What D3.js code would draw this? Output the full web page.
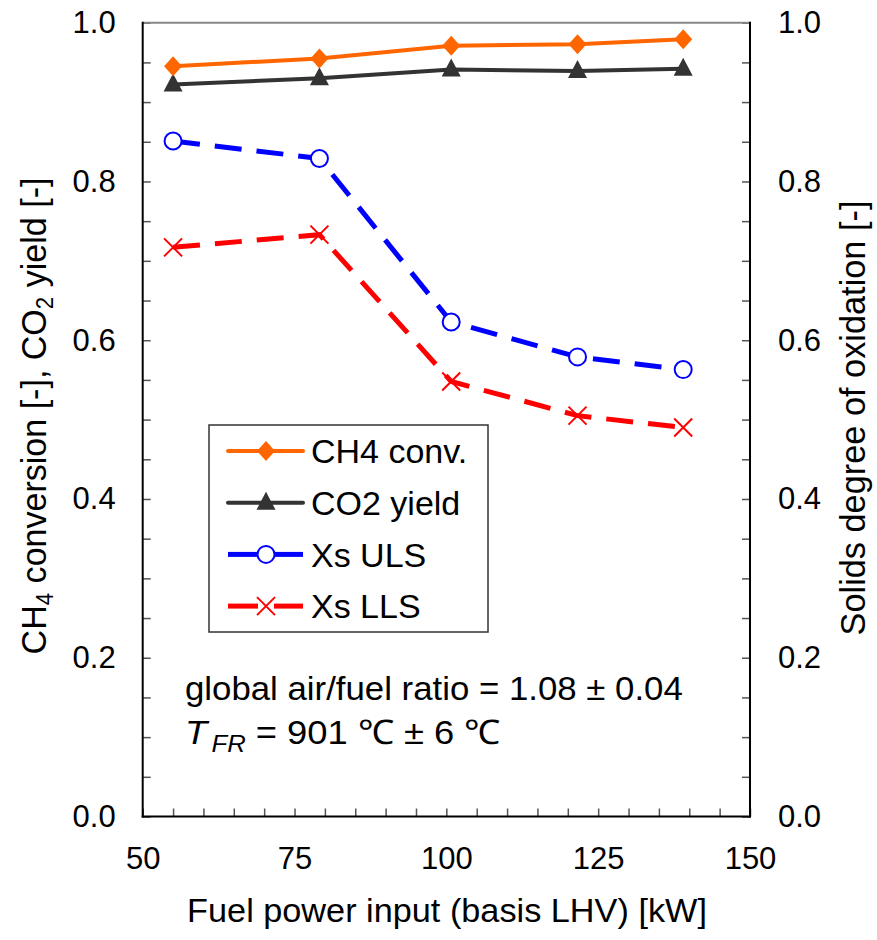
<!DOCTYPE html>
<html lang="en">
<head>
<meta charset="UTF-8">
<title>fuel power input</title>
<script src="https://cdn.jsdelivr.net/npm/d3@7"></script>
<style>
    body { margin: 0; background: #fff; }
    svg { display: block; }
    text { font-family: "Liberation Sans", Arial, Helvetica, sans-serif; fill: #000; }
    .axis path.domain { display: none; }
    .axis line { stroke: #555; stroke-width: 1.5px; }
    .axis text { font-size: 31px; }
    .xaxis text { font-size: 31px; }
</style>
</head>
<body>
<svg width="877" height="940"></svg>
<script>

    // data
    var power = [55, 79.1, 100.8, 121.6, 139];
    var ch4Conv = [0.945, 0.955, 0.971, 0.973, 0.979];
    var co2Yield = [0.922, 0.930, 0.941, 0.939, 0.942];
    var xsULS = [0.851, 0.829, 0.623, 0.579, 0.563];
    var xsLLS = [0.717, 0.733, 0.548, 0.505, 0.490];

    var xMajor = [50, 75, 100, 125, 150];
    var xMinor = d3.range(50, 150.001, 5);
    var yMajor = [0, 0.2, 0.4, 0.6, 0.8, 1.0];
    var yMinor = d3.range(0, 1.0001, 0.05);

    var series = [
        { name: 'CH4 conv.', values: ch4Conv, color: '#ff6600', marker: 'diamond', dash: null, width: 4 },
        { name: 'CO2 yield', values: co2Yield, color: '#333333', marker: 'triangle', dash: null, width: 4 },
        { name: 'Xs ULS', values: xsULS, color: '#0000ff', marker: 'circle', dash: '27,15', width: 5 },
        { name: 'Xs LLS', values: xsLLS, color: '#ff0000', marker: 'cross', dash: '27,15', width: 5 }
    ];

    var svg = d3.select('svg');

    var plotLeft = 142.7, plotRight = 750, plotTop = 22.7, plotBottom = 816.5;

    var x = d3.scaleLinear().domain([50, 150]).range([plotLeft, plotRight]);
    var y = d3.scaleLinear().domain([0, 1]).range([plotBottom, plotTop]);

    function isMajor(list, v) {
        return list.some(function (m) { return Math.abs(m - v) < 1e-6; });
    }

    // fit a text to a given length along its own direction
    function fit(text, length) {
        var w = text.node().getBBox().width;
        text.attr('transform', 'scale(' + (length / w) + ',1)');
    }

    // axes, ticks pointing inward
    svg.append('g')
        .attr('class', 'axis')
        .attr('transform', 'translate(' + plotLeft + ',0)')
        .call(d3.axisLeft(y).tickValues(yMinor).tickSize(-8).tickPadding(27)
            .tickFormat(function (d) { return isMajor(yMajor, d) ? d3.format('.1f')(d) : ''; }));

    svg.append('g')
        .attr('class', 'axis')
        .attr('transform', 'translate(' + plotRight + ',0)')
        .call(d3.axisRight(y).tickValues(yMinor).tickSize(-8).tickPadding(28)
            .tickFormat(function (d) { return isMajor(yMajor, d) ? d3.format('.1f')(d) : ''; }));

    svg.append('g')
        .attr('class', 'axis xaxis')
        .attr('transform', 'translate(0,' + plotBottom + ')')
        .call(d3.axisBottom(x).tickValues(xMinor).tickSize(-8).tickPadding(30)
            .tickFormat(function (d) { return isMajor(xMajor, d) ? d : ''; }));

    // frame
    svg.append('line')
        .attr('x1', plotLeft).attr('x2', plotRight).attr('y1', plotTop).attr('y2', plotTop)
        .style('stroke', '#888').style('stroke-width', 2);
    svg.append('line')
        .attr('x1', plotLeft).attr('x2', plotLeft).attr('y1', plotTop - 1).attr('y2', plotBottom + 1)
        .style('stroke', '#000').style('stroke-width', 2);
    svg.append('line')
        .attr('x1', plotRight).attr('x2', plotRight).attr('y1', plotTop - 1).attr('y2', plotBottom + 1)
        .style('stroke', '#000').style('stroke-width', 2);
    svg.append('line')
        .attr('x1', plotLeft - 1).attr('x2', plotRight + 1).attr('y1', plotBottom).attr('y2', plotBottom)
        .style('stroke', '#000').style('stroke-width', 2);

    function drawMarker(g, type, color, cx, cy) {
        if (type === 'diamond') {
            g.append('path')
                .attr('d', 'M' + cx + ',' + (cy - 10) + 'L' + (cx + 9) + ',' + cy + 'L' + cx + ',' + (cy + 10) + 'L' + (cx - 9) + ',' + cy + 'Z')
                .style('fill', color);
        } else if (type === 'triangle') {
            g.append('path')
                .attr('d', 'M' + cx + ',' + (cy - 11) + 'L' + (cx + 9.5) + ',' + (cy + 7) + 'L' + (cx - 9.5) + ',' + (cy + 7) + 'Z')
                .style('fill', color);
        } else if (type === 'circle') {
            g.append('circle')
                .attr('cx', cx).attr('cy', cy).attr('r', 8.5)
                .style('fill', '#fff').style('stroke', color).style('stroke-width', 2);
        } else {
            g.append('path')
                .attr('d', 'M' + (cx - 9) + ',' + (cy - 9) + 'L' + (cx + 9) + ',' + (cy + 9) + 'M' + (cx - 9) + ',' + (cy + 9) + 'L' + (cx + 9) + ',' + (cy - 9))
                .style('fill', 'none').style('stroke', color).style('stroke-width', 2);
        }
    }

    var line = d3.line()
        .x(function (d) { return x(d[0]); })
        .y(function (d) { return y(d[1]); });

    series.slice().reverse().forEach(function (s) {
        var pts = power.map(function (p, i) { return [p, s.values[i]]; });
        var g = svg.append('g');
        g.append('path')
            .attr('d', line(pts))
            .style('fill', 'none')
            .style('stroke', s.color)
            .style('stroke-width', s.width)
            .style('stroke-dasharray', s.dash);
        pts.forEach(function (p) {
            drawMarker(g, s.marker, s.color, x(p[0]), y(p[1]));
        });
    });

    // legend
    var legend = svg.append('g');
    legend.append('rect')
        .attr('x', 209).attr('y', 425).attr('width', 279).attr('height', 207)
        .style('fill', '#fff').style('stroke', '#333').style('stroke-width', 1.5);

    series.forEach(function (s, i) {
        var ly = 451 + i * 51.7;
        if (s.dash) {
            legend.append('line').attr('x1', 228).attr('x2', 258).attr('y1', ly).attr('y2', ly)
                .style('stroke', s.color).style('stroke-width', s.width);
            legend.append('line').attr('x1', 274).attr('x2', 303).attr('y1', ly).attr('y2', ly)
                .style('stroke', s.color).style('stroke-width', s.width);
        } else {
            legend.append('line').attr('x1', 228).attr('x2', 303).attr('y1', ly).attr('y2', ly)
                .style('stroke', s.color).style('stroke-width', s.width)
                .style('stroke-linecap', 'round');
        }
        drawMarker(legend, s.marker, s.color, 266, ly);
        legend.append('text')
            .attr('x', 311).attr('y', ly).attr('dy', '0.36em')
            .style('font-size', '34px')
            .text(s.name);
    });

    // annotation
    var t1 = svg.append('g').attr('transform', 'translate(185,688)')
        .append('text')
        .attr('dy', '0.36em')
        .style('font-size', '34px')
        .text('global air/fuel ratio = 1.08 \u00b1 0.04');
    fit(t1, 498);

    var t2 = svg.append('g').attr('transform', 'translate(185,732)')
        .append('text')
        .attr('dy', '0.36em')
        .style('font-size', '34px');
    t2.append('tspan').style('font-style', 'italic').text('T');
    t2.append('tspan').style('font-style', 'italic').style('font-size', '24px')
        .attr('dx', 4).attr('dy', 8).text('FR');
    t2.append('tspan').attr('dy', -8).text(' = 901 \u2103 \u00b1 6 \u2103');
    fit(t2, 316);

    // axis titles
    var xt = svg.append('g').attr('transform', 'translate(447,910)')
        .append('text')
        .attr('text-anchor', 'middle').attr('dy', '0.36em')
        .style('font-size', '34px')
        .text('Fuel power input (basis LHV) [kW]');
    fit(xt, 520);

    var lt = svg.append('g').attr('transform', 'translate(33,416) rotate(-90)')
        .append('text')
        .attr('text-anchor', 'middle').attr('dy', '0.36em')
        .style('font-size', '35px');
    lt.append('tspan').text('CH');
    lt.append('tspan').style('font-size', '23px').attr('dy', 7).text('4');
    lt.append('tspan').attr('dy', -7).text(' conversion [-], CO');
    lt.append('tspan').style('font-size', '23px').attr('dy', 7).text('2');
    lt.append('tspan').attr('dy', -7).text(' yield [-]');
    fit(lt, 477);

    var rt = svg.append('g').attr('transform', 'translate(852,418) rotate(-90)')
        .append('text')
        .attr('text-anchor', 'middle').attr('dy', '0.36em')
        .style('font-size', '35px')
        .text('Solids degree of oxidation [-]');
    fit(rt, 435);

</script>
</body>
</html>
